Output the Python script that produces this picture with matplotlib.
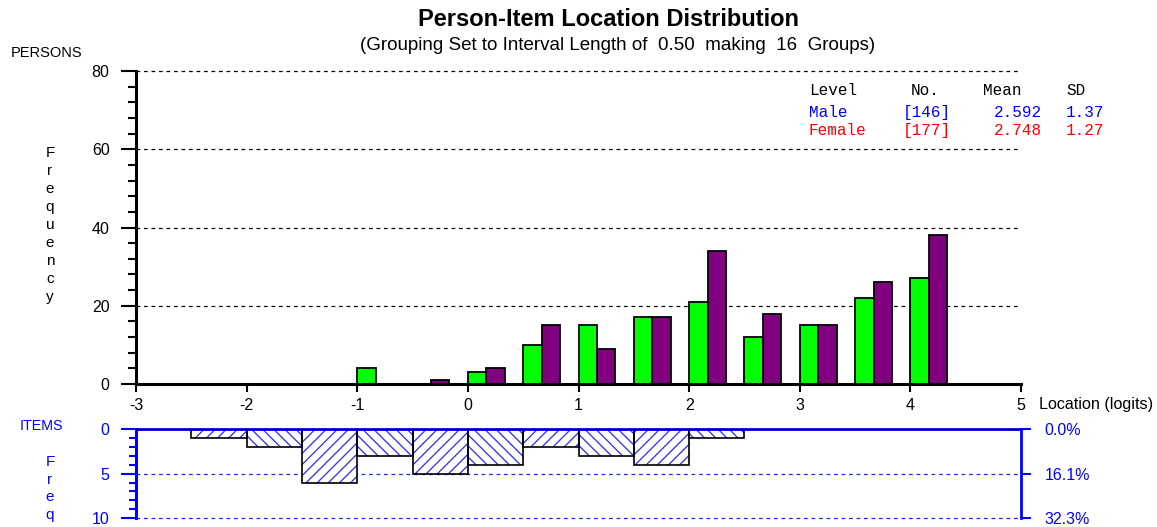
import matplotlib
matplotlib.use('Agg')
import matplotlib.pyplot as plt
import numpy as np

plt.rcParams['font.family'] = ['Liberation Sans', 'DejaVu Sans']
plt.rcParams['hatch.linewidth'] = 0.9

# ---------------- data ----------------
bin_starts = [-3.0, -2.5, -2.0, -1.5, -1.0, -0.5, 0.0, 0.5,
              1.0, 1.5, 2.0, 2.5, 3.0, 3.5, 4.0, 4.5]
male_counts = [0, 0, 0, 0, 4, 0, 3, 10, 15, 17, 21, 12, 15, 22, 27, 0]
female_counts = [0, 0, 0, 0, 0, 1, 4, 15, 9, 17, 34, 18, 15, 26, 38, 0]
item_counts = [0, 1, 2, 6, 3, 5, 4, 2, 3, 4, 1, 0, 0, 0, 0, 0]

x_ticks = [-3, -2, -1, 0, 1, 2, 3, 4, 5]
person_yticks = [0, 20, 40, 60, 80]
item_yticks = [0, 5, 10]
item_pct_labels = ["0.0%", "16.1%", "32.3%"]

group_names = ["Male", "Female"]
group_n = ["[146]", "[177]"]
group_mean = ["2.592", "2.748"]
group_sd = ["1.37", "1.27"]
group_colors = ["#0000ff", "#ff0000"]

title = "Person-Item Location Distribution"
subtitle = "(Grouping Set to Interval Length of  0.50  making  16  Groups)"

# ---------------- figure ----------------
W, H = 1157, 527
fig = plt.figure(figsize=(W / 100, H / 100), dpi=100)


def fx(px):
    return px / W


def fy(py):
    return 1 - py / H


interval = 0.5
bw = interval / 3
tick_fs = 11.5

# upper axes: persons
ax = fig.add_axes([fx(136), fy(384), fx(1021) - fx(136), fy(71) - fy(384)])
ax.set_xlim(-3, 5)
ax.set_ylim(0, 80)
starts = np.array(bin_starts)
ax.bar(starts, male_counts, width=bw, align='edge', color='#00ff00',
       edgecolor='black', linewidth=1.3, zorder=3)
ax.bar(starts + bw, female_counts, width=bw, align='edge', color='#800080',
       edgecolor='black', linewidth=1.3, zorder=3)
for yv in person_yticks[1:]:
    ax.axhline(yv, color='black', lw=0.9, ls=(0, (3, 3)), zorder=1, clip_on=False)

for s in ['top', 'right']:
    ax.spines[s].set_visible(False)
ax.spines['left'].set_linewidth(2.2)
ax.spines['bottom'].set_linewidth(2.2)
ax.spines['bottom'].set_zorder(4)
ax.set_xticks(x_ticks)
ax.set_xticklabels([str(v) for v in x_ticks])
ax.set_yticks(person_yticks)
ax.set_yticklabels([str(v) for v in person_yticks])
ax.set_yticks(np.arange(0, 81, 4), minor=True)
ax.tick_params(axis='y', which='major', length=11, width=1.5, pad=8, labelsize=tick_fs)
ax.tick_params(axis='y', which='minor', length=6, width=1.5)
ax.tick_params(axis='x', which='major', length=6, width=1.5, pad=4, labelsize=tick_fs)
ax.patch.set_alpha(0)

# lower axes: items
axl = fig.add_axes([fx(136), fy(518), fx(1021) - fx(136), fy(429.3) - fy(518)])
axl.set_xlim(-3, 5)
axl.set_ylim(10, 0)
hatches = ['///' if i % 2 else '\\\\\\' for i in range(len(bin_starts))]
nz = [i for i, c in enumerate(item_counts) if c > 0]
axl.bar([bin_starts[i] for i in nz], [item_counts[i] for i in nz], width=interval,
        align='edge', facecolor='white', edgecolor='#2a2aff', linewidth=0,
        hatch=[hatches[i] for i in nz], zorder=2)
axl.bar([bin_starts[i] for i in nz], [item_counts[i] for i in nz], width=interval,
        align='edge', fill=False, edgecolor='black', linewidth=1.2, zorder=3)
for yv in item_yticks[1:]:
    axl.axhline(yv, color='#2020ff', lw=0.9, ls=(0, (3, 3)), zorder=1, clip_on=False)
axl.axhline(0, color='black', lw=1.0, zorder=4)

blue = '#0000ff'
axl.spines['bottom'].set_visible(False)
for s in ['left', 'top', 'right']:
    axl.spines[s].set_color(blue)
axl.spines['left'].set_linewidth(2.2)
axl.spines['top'].set_linewidth(2.0)
axl.spines['right'].set_linewidth(2.0)
axl.set_xticks([])
axl.set_yticks(item_yticks)
axl.set_yticklabels([str(v) for v in item_yticks])
axl.set_yticks(np.arange(0, 11, 1), minor=True)
axl.tick_params(axis='y', which='major', length=11, width=1.5, pad=8, labelsize=tick_fs,
                colors=blue, labelcolor=blue)
axl.tick_params(axis='y', which='minor', length=5, width=1.5, colors=blue)
axl.patch.set_alpha(0)

axr = axl.twinx()
axr.set_ylim(10, 0)
axr.set_yticks(item_yticks)
axr.set_yticklabels(item_pct_labels)
axr.tick_params(axis='y', length=7, width=1.5, colors=blue, labelcolor=blue,
                pad=10, labelsize=tick_fs)
for s in ['left', 'top', 'bottom', 'right']:
    axr.spines[s].set_visible(False)
axr.patch.set_alpha(0)

# ---------------- texts ----------------
fig.text(fx(609), fy(20), title, ha='center', va='center', fontsize=17,
         fontweight='bold')
fig.text(fx(618), fy(46), subtitle, ha='center', va='center', fontsize=13.5)
fig.text(fx(11), fy(53), "PERSONS", ha='left', va='center', fontsize=10.5)
fig.text(fx(1039), fy(404), "Location (logits)", ha='left', va='center', fontsize=11.6)
fig.text(fx(20), fy(426), "ITEMS", ha='left', va='center', fontsize=10.3, color=blue)

for i, ch in enumerate("Frequency"):
    fig.text(fx(50), fy(153 + i * 18), ch, ha='center', va='center', fontsize=11)
for i, ch in enumerate("Freq"):
    fig.text(fx(50), fy(462 + i * 17.5), ch, ha='center', va='center', fontsize=11,
             color=blue)

mono = ['Liberation Mono', 'DejaVu Sans Mono']
cols = [809, 903, 994, 1066]
header = ["Level", "No.", "Mean", "SD"]
hx = [809, 911, 983, 1066]
for t, x in zip(header, hx):
    fig.text(fx(x), fy(90.5), t, ha='left', va='center', fontsize=11.5,
             family=mono, color='black')
for r in range(len(group_names)):
    row = [group_names[r], group_n[r], group_mean[r], group_sd[r]]
    for t, x in zip(row, cols):
        fig.text(fx(x), fy(112.5 + r * 18), t, ha='left', va='center', fontsize=11.5,
                 family=mono, color=group_colors[r])

fig.savefig('out.png', dpi=100)
